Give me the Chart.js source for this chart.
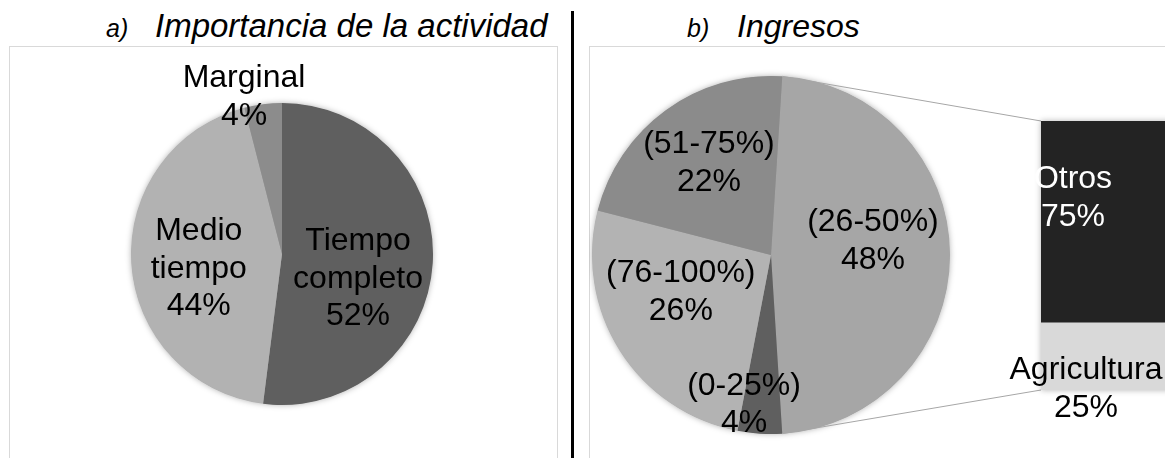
<!DOCTYPE html>
<html>
<head>
<meta charset="utf-8">
<script src="https://cdn.jsdelivr.net/npm/chart.js@4.4.1/dist/chart.umd.min.js"></script>
<style>
  html, body { margin: 0; padding: 0; background: #fff; overflow: hidden; }
  body { width: 1165px; height: 458px; position: relative; font-family: "Liberation Sans", Arial, sans-serif; }
  .titulo { position: absolute; top: 6px; font-size: 32px; line-height: 40px; font-style: italic; color: #000; white-space: nowrap; }
  .titulo .letra { display: inline-block; font-size: 25px; width: 49px; }
  .caja { position: absolute; top: 46px; height: 440px; border: 1px solid #d9d9d9; box-sizing: border-box; }
  .divisor { position: absolute; left: 571px; top: 11px; width: 3px; height: 460px; background: #000; }
  canvas { position: absolute; }
</style>
</head>
<body>
<div class="titulo" style="left:106px; font-size:33px"><span class="letra">a)</span>Importancia de la actividad</div>
<div class="titulo" style="left:687px"><span class="letra" style="width:50px">b)</span>Ingresos</div>
<div class="divisor"></div>
<div class="caja" style="left:9px; width:549px"></div>
<div class="caja" style="left:589px; width:700px"></div>

<canvas id="chartActividad" width="548" height="411" style="left:9px; top:47px; width:548px; height:411px"></canvas>
<canvas id="chartIngresos" width="576" height="411" style="left:589px; top:47px; width:576px; height:411px"></canvas>
<canvas id="chartBarra" width="200" height="340" style="left:1000px; top:100px; width:200px; height:340px"></canvas>

<script>
// ============================================
// Datos
// ============================================
const categoriasActividad = [['Tiempo', 'completo'], ['Medio', 'tiempo'], 'Marginal'];
const valoresActividad = [52, 44, 4];

const categoriasIngresos = ['(26-50%)', '(0-25%)', '(76-100%)', '(51-75%)'];
const valoresIngresos = [48, 4, 26, 22];

const categoriasBarra = ['Agricultura', 'Otros'];
const valoresBarra = [25, 75];

// Colores (escala de grises)
const COLORES_ACTIVIDAD = ['#5f5f5f', '#b2b2b2', '#8c8c8c'];
const COLORES_INGRESOS = ['#a6a6a6', '#5f5f5f', '#b3b3b3', '#8b8b8b'];
const COLORES_BARRA = ['#d9d9d9', '#232323'];

// Posición de las etiquetas: fracción del radio y giro (grados) respecto al centro del sector
const POS_ACTIVIDAD = [{ r: 0.53, a: 14.6 }, { r: 0.56, a: -6.5 }, { r: 1.07, a: -6.4 }];
const POS_INGRESOS = [{ r: 0.575, a: -7.8 }, { r: 0.85, a: 6.6 }, { r: 0.545, a: 10 }, { r: 0.62, a: 2 }];
// Etiquetas de la barra: desplazamiento desde el borde izquierdo y el centro del tramo
const POS_BARRA = [{ dx: 45, dy: 33 }, { dx: 32, dy: -23.5 }];
const COLOR_TEXTO_BARRA = ['#000000', '#ffffff'];

const FUENTE = '"Liberation Sans", Arial, sans-serif';
const TAM = 32;
const INTERLINEA = 37.5;

Chart.defaults.font.family = FUENTE;
Chart.defaults.animation = false;

function dibujarLineas(ctx, lineas, x, y, color) {
    ctx.fillStyle = color;
    const y0 = y - (lineas.length - 1) * INTERLINEA / 2;
    lineas.forEach((t, k) => ctx.fillText(t, x, y0 + k * INTERLINEA));
}

// Sombra suave bajo el pastel
const sombraPastel = {
    id: 'sombraPastel',
    beforeDatasetsDraw(chart) {
        const arc = chart.getDatasetMeta(0).data[0];
        const ctx = chart.ctx;
        ctx.save();
        ctx.shadowColor = 'rgba(0, 0, 0, 0.35)';
        ctx.shadowBlur = 6;
        ctx.fillStyle = '#9a9a9a';
        ctx.beginPath();
        ctx.arc(arc.x, arc.y, arc.outerRadius - 0.5, 0, Math.PI * 2);
        ctx.fill();
        ctx.restore();
    }
};

// Etiquetas dentro / junto a los sectores
const etiquetasPastel = {
    id: 'etiquetasPastel',
    afterDatasetsDraw(chart, args, opts) {
        const ctx = chart.ctx;
        const arcs = chart.getDatasetMeta(0).data;
        ctx.save();
        ctx.font = TAM + 'px ' + FUENTE;
        ctx.textAlign = 'center';
        ctx.textBaseline = 'middle';
        arcs.forEach((arc, i) => {
            const p = opts.pos[i];
            const ang = (arc.startAngle + arc.endAngle) / 2 + p.a * Math.PI / 180;
            const r = arc.outerRadius * p.r;
            const lineas = [].concat(chart.data.labels[i], chart.data.datasets[0].data[i] + '%');
            dibujarLineas(ctx, lineas, arc.x + r * Math.cos(ang), arc.y + r * Math.sin(ang), '#000');
        });
        ctx.restore();
    }
};

// ==========================================
// Barra de desglose (Otros / Agricultura)
// ==========================================
const etiquetasBarra = {
    id: 'etiquetasBarra',
    beforeDatasetsDraw(chart) {
        const abajo = chart.getDatasetMeta(0).data[0];
        const arriba = chart.getDatasetMeta(1).data[0];
        const ctx = chart.ctx;
        ctx.save();
        ctx.shadowColor = 'rgba(0, 0, 0, 0.3)';
        ctx.shadowBlur = 6;
        ctx.fillStyle = '#999';
        ctx.fillRect(arriba.x - arriba.width / 2, arriba.y, arriba.width, abajo.base - arriba.y);
        ctx.restore();
    },
    afterDatasetsDraw(chart) {
        const ctx = chart.ctx;
        ctx.save();
        ctx.font = TAM + 'px ' + FUENTE;
        ctx.textAlign = 'center';
        ctx.textBaseline = 'middle';
        chart.data.datasets.forEach((ds, i) => {
            const bar = chart.getDatasetMeta(i).data[0];
            const izq = bar.x - bar.width / 2;
            const centro = (bar.y + bar.base) / 2;
            dibujarLineas(ctx, [ds.label, ds.data[0] + '%'], izq + POS_BARRA[i].dx, centro + POS_BARRA[i].dy, COLOR_TEXTO_BARRA[i]);
        });
        ctx.restore();
    }
};

const chartBarra = new Chart(document.getElementById('chartBarra'), {
    type: 'bar',
    data: {
        labels: ['Ingresos'],
        datasets: categoriasBarra.map((c, i) => ({
            label: c,
            data: [valoresBarra[i]],
            backgroundColor: COLORES_BARRA[i],
            borderWidth: 0,
            barPercentage: 1,
            categoryPercentage: 1
        }))
    },
    options: {
        responsive: false,
        layout: { padding: { left: 41, top: 21, right: 0, bottom: 50 } },
        plugins: { legend: { display: false }, tooltip: { enabled: false } },
        scales: {
            x: { stacked: true, display: false },
            y: { stacked: true, display: false, min: 0, max: 100 }
        }
    },
    plugins: [etiquetasBarra]
});

// Líneas que unen el sector (26-50%) con la barra
const conectores = {
    id: 'conectores',
    afterDraw(chart) {
        const arc = chart.getDatasetMeta(0).data[0];
        const arriba = chartBarra.getDatasetMeta(1).data[0];
        const abajo = chartBarra.getDatasetMeta(0).data[0];
        const rPie = chart.canvas.getBoundingClientRect();
        const rBar = chartBarra.canvas.getBoundingClientRect();
        const ox = rBar.left - rPie.left;
        const oy = rBar.top - rPie.top;
        const izq = arriba.x - arriba.width / 2 + ox;
        const R = arc.outerRadius;
        const ctx = chart.ctx;
        ctx.save();
        ctx.strokeStyle = '#a6a6a6';
        ctx.lineWidth = 1;
        ctx.beginPath();
        ctx.moveTo(arc.x + R * Math.cos(arc.startAngle), arc.y + R * Math.sin(arc.startAngle));
        ctx.lineTo(izq, arriba.y + oy);
        ctx.moveTo(arc.x + R * Math.cos(arc.endAngle), arc.y + R * Math.sin(arc.endAngle));
        ctx.lineTo(izq, abajo.base + oy);
        ctx.stroke();
        ctx.restore();
    }
};

// ==========================================
// a) Importancia de la actividad
// ==========================================
new Chart(document.getElementById('chartActividad'), {
    type: 'pie',
    data: {
        labels: categoriasActividad,
        datasets: [{
            data: valoresActividad,
            backgroundColor: COLORES_ACTIVIDAD,
            borderWidth: 0,
            radius: 151
        }]
    },
    options: {
        responsive: false,
        rotation: 0,
        layout: { padding: { left: 0, right: 2, top: 3, bottom: 0 } },
        plugins: {
            legend: { display: false },
            tooltip: { enabled: false },
            etiquetasPastel: { pos: POS_ACTIVIDAD }
        }
    },
    plugins: [sombraPastel, etiquetasPastel]
});

// ==========================================
// b) Ingresos
// ==========================================
new Chart(document.getElementById('chartIngresos'), {
    type: 'pie',
    data: {
        labels: categoriasIngresos,
        datasets: [{
            data: valoresIngresos,
            backgroundColor: COLORES_INGRESOS,
            borderWidth: 0,
            radius: 179
        }]
    },
    options: {
        responsive: false,
        rotation: 3.6,
        layout: { padding: { left: 0, right: 212, top: 5, bottom: 0 } },
        plugins: {
            legend: { display: false },
            tooltip: { enabled: false },
            etiquetasPastel: { pos: POS_INGRESOS }
        }
    },
    plugins: [sombraPastel, etiquetasPastel, conectores]
});
</script>
</body>
</html>
